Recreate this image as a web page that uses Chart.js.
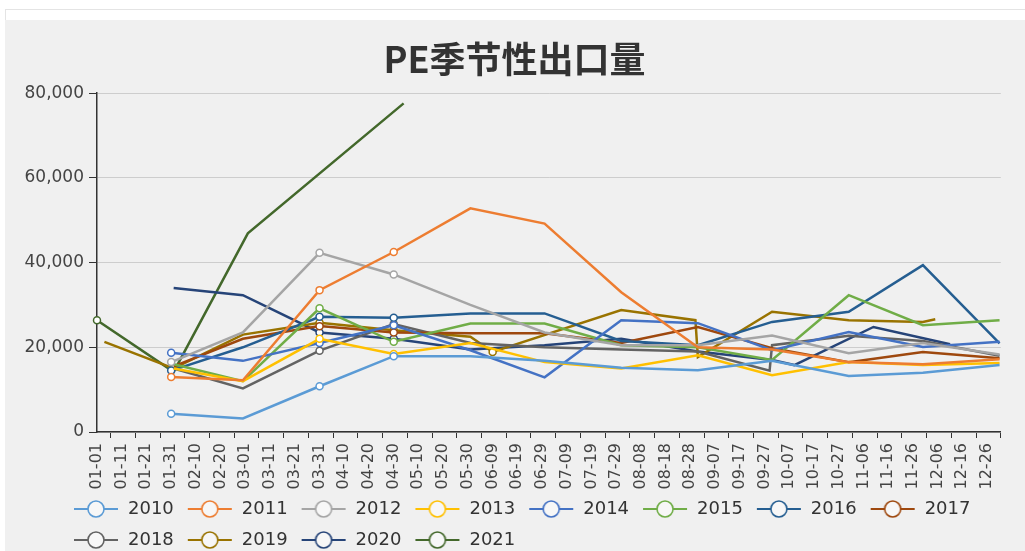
<!DOCTYPE html>
<html>
<head>
<meta charset="utf-8">
<script src="https://cdn.jsdelivr.net/npm/chart.js@4/dist/chart.umd.min.js"></script>
<style>
  html, body { margin: 0; padding: 0; background: #fff; overflow: hidden; }
  #frame { position: absolute; left: 5px; top: 9px; width: 1020px; height: 600px; border-top: 1px solid #e4e4e4; border-left: 1px solid #e4e4e4; }
  #wrap { position: absolute; left: 5px; top: 20px; width: 1020px; height: 539px; background: #f0f0f0; }
</style>
</head>
<body>
<div id="frame"></div>
<div id="wrap"><canvas id="myChart" width="1020" height="539"></canvas></div>
<script>
// axis labels, every 10 days (leap-year calendar)
const xLabels = ["01-01", "01-11", "01-21", "01-31", "02-10", "02-20", "03-01", "03-11", "03-21", "03-31",
  "04-10", "04-20", "04-30", "05-10", "05-20", "05-30", "06-09", "06-19", "06-29", "07-09", "07-19", "07-29",
  "08-08", "08-18", "08-28", "09-07", "09-17", "09-27", "10-07", "10-17", "10-27", "11-06", "11-16", "11-26",
  "12-06", "12-16", "12-26"];
const yTicks = [0, 20000, 40000, 60000, 80000];

const years = ["2010", "2011", "2012", "2013", "2014", "2015", "2016", "2017", "2018", "2019", "2020", "2021"];
const colors = ["#5B9BD5", "#ED7D31", "#A5A5A5", "#FFC000", "#4472C4", "#70AD47",
  "#255E91", "#9E480E", "#636363", "#997300", "#264478", "#43682B"];

// [date, export volume]
const y2010 = [["01-31", 4300], ["02-29", 3200], ["03-31", 10800], ["04-30", 17900], ["05-31", 17900], ["06-30", 16800],
  ["07-31", 15200], ["08-31", 14600], ["09-30", 16800], ["10-31", 13200], ["11-30", 14000], ["12-31", 15800]];
const y2011 = [["01-31", 13000], ["02-29", 12200], ["03-31", 33500], ["04-30", 42500], ["05-31", 52800], ["06-30", 49200],
  ["07-31", 33000], ["08-31", 20000], ["09-30", 19500], ["10-31", 16500], ["11-30", 16000], ["12-31", 17200]];
const y2012 = [["01-31", 16500], ["02-29", 23500], ["03-31", 42300], ["04-30", 37200], ["05-31", 30000], ["06-30", 23500],
  ["07-31", 20500], ["08-31", 20500], ["09-30", 22800], ["10-31", 18600], ["11-30", 21000], ["12-31", 18300]];
const y2013 = [["02-01", 15000], ["02-29", 12000], ["03-31", 22000], ["04-30", 18400], ["05-31", 21000], ["06-30", 16500],
  ["07-31", 15000], ["08-31", 18100], ["09-30", 13400], ["10-31", 16500], ["11-30", 15800], ["12-31", 16300]];
const y2014 = [["01-31", 18700], ["02-29", 16800], ["03-31", 21000], ["04-30", 25200], ["05-31", 19300], ["06-30", 12900],
  ["07-31", 26400], ["08-31", 25700], ["09-30", 19300], ["10-31", 23600], ["11-30", 20100], ["12-31", 21300]];
const y2015 = [["02-01", 16000], ["02-29", 12000], ["03-31", 29200], ["04-30", 21300], ["05-31", 25600], ["06-30", 25600],
  ["07-31", 20500], ["08-31", 20000], ["09-30", 17000], ["10-31", 32300], ["11-30", 25200], ["12-31", 26400]];
const y2016 = [["01-31", 14500], ["02-29", 20000], ["03-31", 27200], ["04-30", 27000], ["05-31", 28000], ["06-30", 28000],
  ["07-31", 21500], ["08-31", 20500], ["09-30", 26000], ["10-31", 28400], ["11-30", 39400], ["12-31", 20900]];
const y2017 = [["02-01", 15500], ["02-29", 22000], ["03-31", 25000], ["04-30", 23500], ["05-31", 23300], ["06-30", 23300],
  ["07-31", 21000], ["08-31", 24800], ["09-30", 19800], ["10-31", 16500], ["11-30", 18900], ["12-31", 17400]];
const y2018 = [["02-01", 15000], ["02-29", 10300], ["03-31", 19200], ["04-30", 25500], ["05-31", 21000], ["06-30", 20000],
  ["07-31", 19500], ["08-31", 19000], ["09-29", 14500], ["09-30", 20500], ["10-31", 22700], ["11-30", 21500], ["12-31", 18000]];
const y2019 = [["01-04", 21300], ["02-01", 15000], ["02-29", 23000], ["03-31", 25800], ["04-30", 24000], ["05-31", 22500],
  ["06-09", 18900], ["07-31", 28800], ["08-30", 26400], ["08-31", 17700], ["09-30", 28400], ["10-31", 26400],
  ["11-30", 26000], ["12-05", 26600]];
const y2020 = [["02-01", 34000], ["02-29", 32300], ["03-31", 23500], ["04-30", 22000], ["05-31", 19500], ["06-30", 20500],
  ["07-31", 22000], ["08-31", 19000], ["09-30", 17000], ["10-09", 15800], ["11-10", 24800], ["12-11", 20700]];
const y2021 = [["01-01", 26400], ["02-01", 14200], ["03-02", 46900], ["05-04", 77600]];

const seriesData = [y2010, y2011, y2012, y2013, y2014, y2015, y2016, y2017, y2018, y2019, y2020, y2021];

// day of year on a leap-year calendar
function dayOf(md) {
  const [m, d] = md.split("-").map(Number);
  return (Date.UTC(2020, m - 1, d) - Date.UTC(2020, 0, 1)) / 86400000;
}
const labelDays = xLabels.map(dayOf);
const dayWidth = 913 / 365.5;

// legend symbol: line through a hollow circle
function legendIcon(color) {
  const c = document.createElement("canvas");
  c.width = 46; c.height = 20;
  const g = c.getContext("2d");
  g.strokeStyle = color;
  g.lineWidth = 2;
  g.beginPath(); g.moveTo(1, 10); g.lineTo(45, 10); g.stroke();
  g.fillStyle = "#f7f7f7";
  g.lineWidth = 1.6;
  g.beginPath(); g.arc(23, 10, 8, 0, Math.PI * 2); g.fill(); g.stroke();
  return c;
}

const datasets = years.map((yr, i) => ({
  label: yr,
  data: seriesData[i].map(p => ({ x: dayOf(p[0]), y: p[1] })),
  borderColor: colors[i],
  backgroundColor: colors[i],
  borderWidth: 2.5,
  tension: 0,
  clip: false,
  pointStyle: "circle",
  pointBackgroundColor: "#ffffff",
  pointBorderColor: colors[i],
  pointBorderWidth: 1.5,
  pointRadius: ctx => (ctx.raw && labelDays.includes(ctx.raw.x)) ? 3.5 : 0,
  pointHoverRadius: 4,
  icon: legendIcon(colors[i]),
}));

const shiftLegend = {
  id: "shiftLegend",
  afterLayout(chart) {
    chart.legend.left = 55;
  },
};

const ctx = document.getElementById("myChart").getContext("2d");
const myChart = new Chart(ctx, {
  type: "line",
  data: { datasets: datasets },
  plugins: [shiftLegend],
  options: {
    responsive: false,
    animation: false,
    events: [],
    layout: { padding: { left: 14, right: 15, top: 0, bottom: 0 } },
    scales: {
      x: {
        type: "linear",
        min: 0,
        max: 365.5,
        afterBuildTicks: scale => {
          scale.ticks = labelDays.map(d => ({ value: d + 5.5 }));
        },
        afterFit: scale => {
          scale.height = 55;
          // let the rotated labels run past the axis box
          scale._computeLabelArea = () => undefined;
        },
        ticks: {
          autoSkip: false,
          minRotation: 90,
          maxRotation: 90,
          padding: 5,
          labelOffset: -5.5 * dayWidth,
          color: "#444",
          font: { family: "DejaVu Sans", size: 16 },
          callback: (value, index) => xLabels[index],
        },
        grid: { drawOnChartArea: false, tickLength: 6, tickColor: "#333", tickWidth: 1 },
        border: { color: "#333", width: 1.5 },
      },
      y: {
        min: 0,
        max: 80000,
        afterBuildTicks: scale => {
          scale.ticks = yTicks.map(v => ({ value: v }));
        },
        afterFit: scale => { scale.width = 78; },
        ticks: {
          padding: 5,
          color: "#444",
          font: { family: "DejaVu Sans", size: 17 },
          callback: v => v.toLocaleString("en-US"),
        },
        grid: { color: "#cdcdcd", tickLength: 8, tickColor: "#333" },
        border: { color: "#333", width: 1.5 },
      },
    },
    plugins: {
      title: {
        display: true,
        text: "PE季节性出口量",
        color: "#333",
        font: { family: "Noto Sans CJK SC", size: 36, weight: "bold", lineHeight: 1.2 },
        padding: { top: 18, bottom: 12 },
      },
      legend: {
        display: true,
        position: "bottom",
        align: "start",
        labels: {
          usePointStyle: true,
          pointStyleWidth: 46,
          padding: 13,
          color: "#333",
          font: { family: "DejaVu Sans", size: 18 },
          generateLabels: chart => chart.data.datasets.map((ds, i) => ({
            text: ds.label,
            pointStyle: ds.icon,
            fillStyle: ds.borderColor,
            strokeStyle: ds.borderColor,
            fontColor: "#333",
            lineWidth: 0,
            hidden: false,
            datasetIndex: i,
          })),
        },
      },
      tooltip: { enabled: false },
    },
  },
});
</script>
</body>
</html>
